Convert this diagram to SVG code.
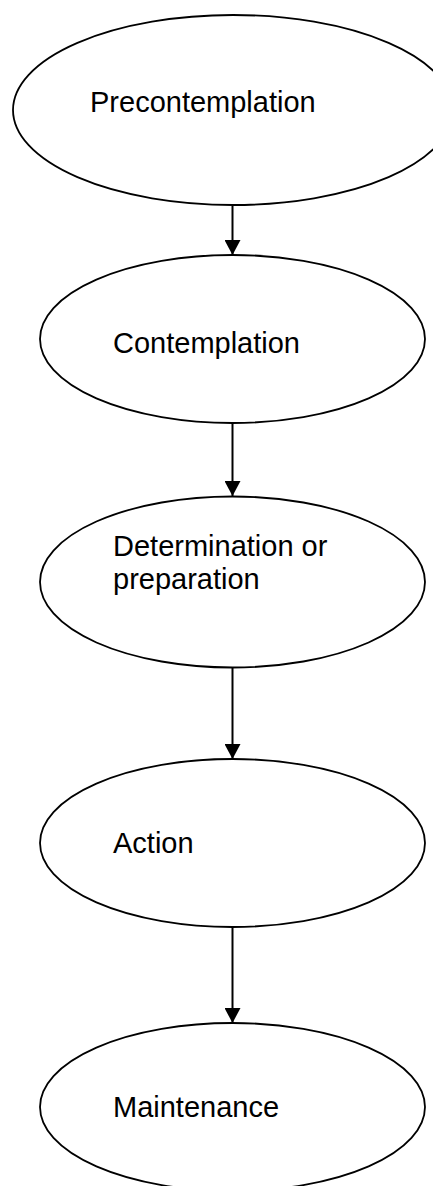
<svg xmlns="http://www.w3.org/2000/svg" width="433" height="1186" viewBox="0 0 433 1186">
  <style>
    .stage { fill: #ffffff; stroke: #000000; stroke-width: 1.8; }
    .label { font-family: "Liberation Sans", Arial, sans-serif; font-size: 29px; fill: #000000; }
    .link { stroke: #000000; stroke-width: 2; fill: none; }
  </style>
  <defs>
    <marker id="arrowhead" markerUnits="userSpaceOnUse" markerWidth="16" markerHeight="16" refX="15" refY="8" orient="auto">
      <path d="M0,0 L15,8 L0,16 Z" fill="#000000"/>
    </marker>
  </defs>

  <rect width="433" height="1186" fill="#ffffff"/>

  <g id="connectors">
    <line class="link" x1="232.5" y1="206" x2="232.5" y2="255" marker-end="url(#arrowhead)"/>
    <line class="link" x1="232.5" y1="423" x2="232.5" y2="496" marker-end="url(#arrowhead)"/>
    <line class="link" x1="232.5" y1="663" x2="232.5" y2="759" marker-end="url(#arrowhead)"/>
    <line class="link" x1="232.5" y1="927" x2="232.5" y2="1023" marker-end="url(#arrowhead)"/>
  </g>

  <g id="precontemplation">
    <ellipse class="stage" cx="233" cy="110" rx="220" ry="95"/>
    <text class="label" x="90" y="112">Precontemplation</text>
  </g>

  <g id="contemplation">
    <ellipse class="stage" cx="232.5" cy="339" rx="192.5" ry="84"/>
    <text class="label" x="113" y="353">Contemplation</text>
  </g>

  <g id="determination">
    <ellipse class="stage" cx="232.5" cy="582" rx="192.5" ry="85.5"/>
    <text class="label" x="113" y="556">Determination or</text>
    <text class="label" x="113" y="589">preparation</text>
  </g>

  <g id="action">
    <ellipse class="stage" cx="232.5" cy="843" rx="192.5" ry="84"/>
    <text class="label" x="113" y="853">Action</text>
  </g>

  <g id="maintenance">
    <ellipse class="stage" cx="232.5" cy="1107" rx="192.5" ry="84"/>
    <text class="label" x="113" y="1117">Maintenance</text>
  </g>
</svg>
